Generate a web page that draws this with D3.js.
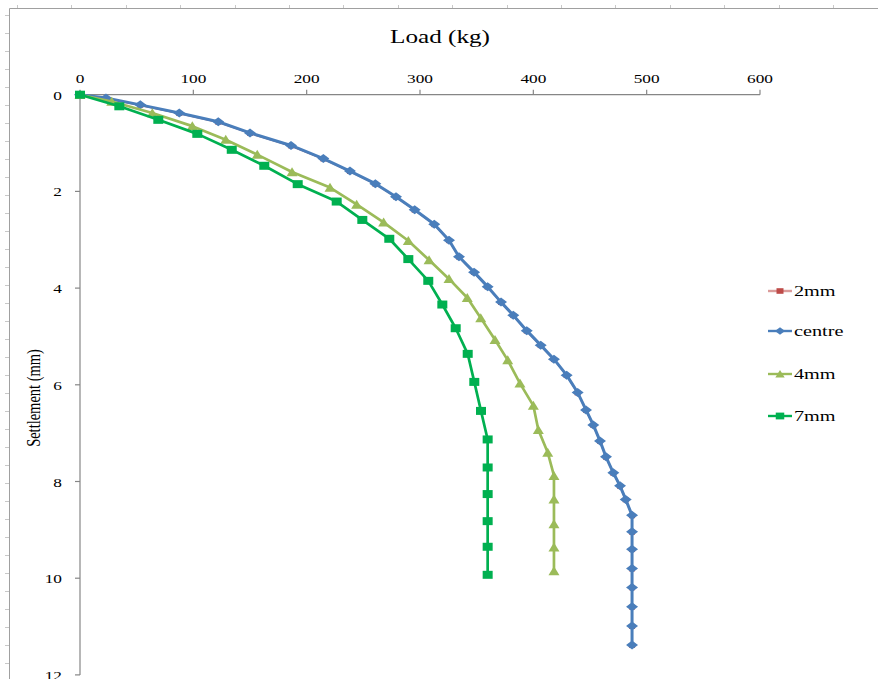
<!DOCTYPE html>
<html>
<head>
<meta charset="utf-8">
<script src="https://cdn.jsdelivr.net/npm/d3@7"></script>
<style>
  html, body { margin: 0; padding: 0; background: #fff; }
  svg { display: block; }
</style>
</head>
<body>
<svg id="chart" width="878" height="679"></svg>
<script>
// ---- data (Load kg, Settlement mm) ----
const xTicks = [0, 100, 200, 300, 400, 500, 600];
const yTicks = [0, 2, 4, 6, 8, 10, 12];
const seriesNames = ["2mm", "centre", "4mm", "7mm"];

const centreLoad = [0, 22.9, 53.2, 87.6, 122.0, 150.0, 186.2, 214.7, 238.2, 260.6, 278.8, 295.3, 312.6, 325.6, 334.4,
  347.7, 359.7, 371.5, 382.3, 394.2, 406.5, 418.2, 429.4, 439.1, 446.5, 452.9, 458.8, 464.1, 470.6, 476.5, 481.5,
  487.1, 487.1, 487.1, 487.1, 487.1, 487.1, 487.1, 487.1];
const centreSettle = [0, 0.07, 0.21, 0.38, 0.56, 0.79, 1.05, 1.32, 1.58, 1.84, 2.11, 2.38, 2.68, 3.01, 3.35,
  3.67, 3.97, 4.29, 4.56, 4.88, 5.18, 5.47, 5.80, 6.16, 6.52, 6.83, 7.16, 7.49, 7.82, 8.09, 8.37,
  8.70, 9.04, 9.40, 9.80, 10.19, 10.59, 10.99, 11.38];

const mm2Load = [0, 22.9, 53.2, 87.6, 122.0, 150.0, 186.2, 214.7, 238.2, 260.6, 278.8, 295.3, 312.6, 325.6, 334.4,
  347.7, 359.7, 371.5, 382.3, 394.2, 406.5, 418.2, 429.4, 439.1, 446.5, 452.9, 458.8, 464.1, 470.6, 476.5, 481.5,
  487.1, 487.1, 487.1, 487.1, 487.1, 487.1, 487.1, 487.1];
const mm2Settle = [0, 0.08, 0.22, 0.39, 0.57, 0.80, 1.06, 1.33, 1.59, 1.85, 2.12, 2.39, 2.69, 3.02, 3.36,
  3.68, 3.98, 4.30, 4.57, 4.89, 5.19, 5.48, 5.81, 6.17, 6.53, 6.84, 7.17, 7.50, 7.83, 8.10, 8.38,
  8.71, 9.05, 9.41, 9.81, 10.20, 10.60, 11.00, 11.39];

const mm4Load = [0, 28.0, 63.8, 99.1, 128.6, 156.4, 187.1, 220.6, 244.1, 267.9, 289.7, 308.0, 325.6,
  341.7, 353.6, 366.2, 377.4, 388.2, 400.0, 404.4, 412.7, 418.2, 418.2, 418.2, 418.2, 418.2];
const mm4Settle = [0, 0.14, 0.38, 0.65, 0.93, 1.24, 1.60, 1.92, 2.27, 2.64, 3.02, 3.42, 3.81,
  4.20, 4.62, 5.07, 5.49, 5.97, 6.43, 6.93, 7.40, 7.88, 8.37, 8.88, 9.36, 9.85];

const mm7Load = [0, 34.7, 69.1, 103.5, 133.9, 162.6, 192.1, 226.5, 249.1, 272.9, 289.7, 307.3, 319.7, 331.5,
  342.1, 347.9, 353.8, 359.7, 359.7, 359.7, 359.7, 359.7, 359.7];
const mm7Settle = [0, 0.24, 0.52, 0.81, 1.14, 1.47, 1.85, 2.21, 2.59, 2.98, 3.40, 3.85, 4.34, 4.83,
  5.36, 5.94, 6.54, 7.13, 7.71, 8.26, 8.82, 9.35, 9.93];

// ---- build ----
const FONT = "'Liberation Serif', 'Times New Roman', Times, serif";
const svg = d3.select("#chart");
const x = d3.scaleLinear().domain([0, 600]).range([80, 760]);
const y = d3.scaleLinear().domain([0, 12]).range([94.7, 674.9]);

const axisColor = "#868686";

// spreadsheet frame & ruler marks
svg.append("line").attr("x1", 9.5).attr("y1", 8.5).attr("x2", 9.5).attr("y2", 679).attr("stroke", "#a0a0a0").attr("stroke-width", 1);
svg.append("line").attr("x1", 9.5).attr("y1", 8.5).attr("x2", 878).attr("y2", 8.5).attr("stroke", "#a0a0a0").attr("stroke-width", 1);
for (let i = 0; 17 + i * 54.4 < 878; i++) {
  const px = Math.round(17 + i * 54.4) + 0.5;
  svg.append("line").attr("x1", px).attr("x2", px).attr("y1", 5).attr("y2", 8).attr("stroke", "#c8c8c8");
}
for (let i = 0; 15 + i * 18 < 679; i++) {
  const py = Math.round(15 + i * 18) + 0.5;
  svg.append("line").attr("x1", 5).attr("x2", 9).attr("y1", py).attr("y2", py).attr("stroke", "#c8c8c8");
}

// X axis (top)
const gx = svg.append("g").attr("transform", `translate(0,${y(0)})`);
gx.append("line").attr("x1", x(0)).attr("x2", x(600)).attr("y1", 0).attr("y2", 0).attr("stroke", axisColor).attr("stroke-width", 1.2);
xTicks.forEach(t => {
  gx.append("line").attr("x1", x(t)).attr("x2", x(t)).attr("y1", 0).attr("y2", -5).attr("stroke", axisColor).attr("stroke-width", 1.2);
  gx.append("text").attr("transform", `translate(${x(t)},-12) scale(1.28,1)`)
    .attr("font-family", FONT).attr("fill", "#000")
    .attr("text-anchor", "middle").attr("font-size", 13.5).text(t);
});

// Y axis (left)
const gy = svg.append("g").attr("transform", `translate(${x(0)},0)`);
gy.append("line").attr("x1", 0).attr("x2", 0).attr("y1", y(0)).attr("y2", y(12)).attr("stroke", axisColor).attr("stroke-width", 1.2);
yTicks.forEach(t => {
  gy.append("line").attr("x1", -5).attr("x2", 0).attr("y1", y(t)).attr("y2", y(t)).attr("stroke", axisColor).attr("stroke-width", 1.2);
  gy.append("text").attr("transform", `translate(-18,${y(t) + 5}) scale(1.28,1)`)
    .attr("font-family", FONT).attr("fill", "#000")
    .attr("text-anchor", "end").attr("font-size", 13.5).text(t);
});

// axis titles
svg.append("text").attr("transform", `translate(440,43) scale(1.4,1)`)
  .attr("font-family", FONT).attr("fill", "#000")
  .attr("text-anchor", "middle").attr("font-size", 18).text("Load (kg)");
svg.append("text").attr("transform", `translate(40,398) scale(1.3,1) rotate(-90)`)
  .attr("font-family", FONT).attr("fill", "#000")
  .attr("text-anchor", "middle").attr("font-size", 14.5).text("Settlement (mm)");

// markers
function markerPath(shape) {
  if (shape === "diamond") return "M0,-4.5L6,0L0,4.5L-6,0Z";
  if (shape === "square") return "M-5,-4H5V4H-5Z";
  if (shape === "triangle") return "M0,-4.8L5.5,4.2L-5.5,4.2Z";
  return "";
}

const series = [
  { name: seriesNames[0], xs: mm2Load, ys: mm2Settle, color: "#BE4B48", shape: "square", ms: 0.6, lw: 1.5 },
  { name: seriesNames[1], xs: centreLoad, ys: centreSettle, color: "#4A7EBB", shape: "diamond", ms: 1, lw: 3 },
  { name: seriesNames[2], xs: mm4Load, ys: mm4Settle, color: "#9BBB59", shape: "triangle", ms: 1, lw: 2.7 },
  { name: seriesNames[3], xs: mm7Load, ys: mm7Settle, color: "#00B050", shape: "square", ms: 1, lw: 2.7 }
];

const line = d3.line().x(d => x(d[0])).y(d => y(d[1]));

series.forEach(s => {
  const pts = s.xs.map((v, i) => [v, s.ys[i]]);
  const g = svg.append("g");
  g.append("path").datum(pts).attr("d", line).attr("fill", "none")
    .attr("stroke", s.color).attr("stroke-width", s.lw).attr("stroke-linejoin", "round");
  g.selectAll("path.m").data(pts).enter().append("path").attr("class", "m")
    .attr("d", markerPath(s.shape))
    .attr("transform", d => `translate(${x(d[0])},${y(d[1])}) scale(${s.ms})`)
    .attr("fill", s.color);
});

// legend
const legendY = [291, 331, 374, 416];
series.forEach((s, i) => {
  const g = svg.append("g").attr("transform", `translate(768,${legendY[i]})`);
  g.append("line").attr("x1", 0).attr("x2", 24).attr("y1", 0).attr("y2", 0)
    .attr("stroke", s.color).attr("stroke-width", 2.4).attr("opacity", i === 0 ? 0.55 : 1);
  g.append("path").attr("d", markerPath(s.shape)).attr("transform", `translate(12,0) scale(${i === 0 ? 0.7 : 0.85})`).attr("fill", s.color);
  g.append("text").attr("transform", `translate(26,5) scale(1.35,1)`)
    .attr("font-family", FONT).attr("fill", "#000").attr("font-size", 15).text(s.name);
});
</script>
</body>
</html>
